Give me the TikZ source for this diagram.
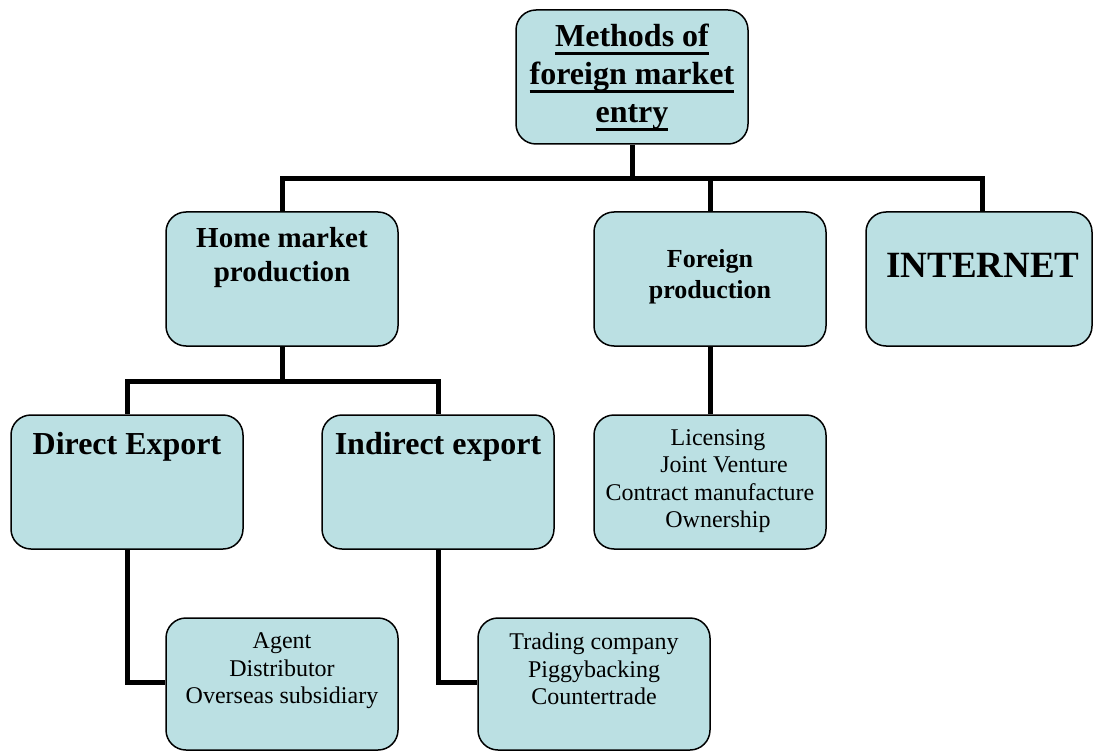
\documentclass[tikz,border=0pt]{standalone}
\usepackage{fontspec}
\setmainfont{Liberation Serif}
\usepackage{xcolor}
\definecolor{boxblue}{RGB}{187,224,227}
\newsavebox\ulinebox
\newcommand{\ulined}[1]{\sbox\ulinebox{#1}\rlap{\raisebox{-8pt}[0pt][0pt]{\rule{\wd\ulinebox}{2.5pt}}}\usebox\ulinebox}

\begin{document}
\begin{tikzpicture}[x=1pt,y=-1pt,
    box/.style={draw,line width=1.5pt,fill=boxblue,rounded corners=20pt,
        minimum width=232pt,minimum height=134pt,inner sep=0pt},
    link/.style={line width=5pt},
    heading/.style={align=center,inner sep=0pt},
    items/.style={font=\fontsize{24}{27.5}\selectfont,align=center,inner sep=0pt}]
    \useasboundingbox (0,0) rectangle (1094,751);

    % top level
    \node[box,align=center,font=\fontsize{32}{38}\selectfont\bfseries] (entry) at (632,77)
        {\ulined{Methods of}\\\ulined{foreign market}\\\ulined{entry}};

    \node[box] (home) at (282,279) {};
    \node[heading,font=\fontsize{29}{34}\selectfont\bfseries] (home text) at (282,258) {Home market\\production};

    \node[box] (foreign) at (710,279) {};
    \node[heading,font=\fontsize{26}{31}\selectfont\bfseries] (foreign text) at (710,277) {Foreign\\production};

    \node[box,minimum width=226pt] (inet) at (979,279) {};
    \node[heading,font=\fontsize{37}{42}\selectfont\bfseries] (inet text) at (983,265) {INTERNET};

    % second level
    \node[box] (direct) at (127,482) {};
    \node[heading,font=\fontsize{32}{38}\selectfont\bfseries] (direct text) at (127,447) {Direct Export};

    \node[box] (indirect) at (438,482) {};
    \node[heading,font=\fontsize{32}{38}\selectfont\bfseries] (indirect text) at (438,447) {Indirect export};

    \node[box] (licence) at (710,482) {};
    \node[items] (licence text) at (710,481)
        {\hspace*{16pt}Licensing\\\hspace*{28pt}Joint Venture\\Contract manufacture\\\hspace*{16pt}Ownership};

    % third level
    \node[box,minimum height=132pt] (agent) at (282,684) {};
    \node[items] (agent text) at (282,671) {Agent\\Distributor\\Overseas subsidiary};

    \node[box,minimum height=132pt] (trading) at (594,684) {};
    \node[items] (trading text) at (594,669) {Trading company\\Piggybacking\\Countertrade};

    % connectors
    \coordinate (top bus) at (632,179);
    \coordinate (home bus) at (282,381);

    \draw[link] (entry.south) -- (top bus);
    \draw[link] (top bus) -| (home.north);
    \draw[link] (top bus) -| (foreign.north);
    \draw[link] (top bus) -| ([xshift=3pt]inet.north);

    \draw[link] (home.south) -- (home bus);
    \draw[link] (home bus) -| (direct.north);
    \draw[link] (home bus) -| (indirect.north);

    \draw[link] (foreign.south) -- (licence.north);

    \draw[link] (direct.south) |- ([yshift=2pt]agent.west);
    \draw[link] (indirect.south) |- ([yshift=2pt]trading.west);
\end{tikzpicture}
\end{document}
